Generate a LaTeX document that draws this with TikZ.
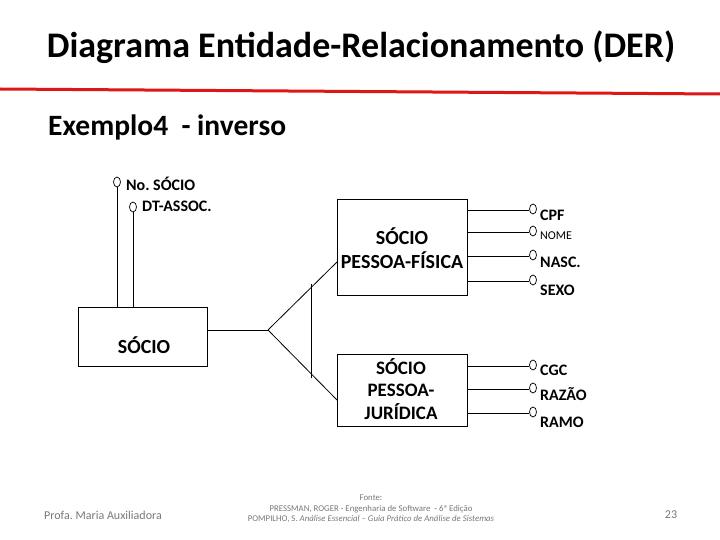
\documentclass[tikz,border=0pt]{standalone}
\usepackage{fontspec}
\setmainfont{Carlito}
\usetikzlibrary{shapes.geometric}
\definecolor{barred}{RGB}{222,22,22}
\definecolor{footgray}{RGB}{120,120,120}
\frenchspacing
\tikzset{
  ent/.style={draw, line width=0.9pt},
  attr/.style={draw, ellipse, minimum width=7pt, minimum height=10pt, inner sep=0pt, line width=0.7pt},
  lnk/.style={line width=0.8pt},
  lbl/.style={anchor=west, inner sep=0pt, font=\fontsize{16}{18}\selectfont\bfseries},
  boxtext/.style={align=center, inner sep=0pt, font=\fontsize{20}{24}\selectfont\bfseries},
  foot/.style={text=footgray, inner sep=0pt}
}
\begin{document}
\begin{tikzpicture}[x=1pt,y=-1pt]
\useasboundingbox (0,0) rectangle (720,540);
% title
\node[inner sep=0pt, font=\fontsize{36}{40}\selectfont\bfseries] (title) at (361,47) {Diagrama Entidade-Relacionamento (DER)};
\coordinate (rl) at (0,89);
\coordinate (rr) at (720,94);
\draw[barred, line width=3pt] (rl) -- (rr);
\node[anchor=west, inner sep=0pt, font=\fontsize{29.5}{33}\selectfont\bfseries] (ex) at (48,127) {Exemplo4\ \ - inverso};

% SOCIO entity
\draw[ent] (78,307) rectangle (207,366);
\coordinate (socioE) at (207,330);
\node[boxtext] (socio) at (144,345) {SÓCIO};
\node[attr] (a1) at (117,182) {};
\node[attr] (a2) at (133,207) {};
\node[lbl] (l1) at (126,184) {No. SÓCIO};
\node[lbl] (l2) at (142,206) {DT-ASSOC.};
\coordinate (a1b) at (117,307);
\coordinate (a2b) at (133,307);
\draw[lnk] (a1.south) -- (a1b);
\draw[lnk] (a2.south) -- (a2b);

% specialization
\coordinate (apex) at (268,330);
\coordinate (pfL) at (337,262);
\coordinate (pjL) at (337,400);
\coordinate (bt) at (311,284);
\coordinate (bb) at (311,378);
\draw[lnk] (socioE) -- (apex);
\draw[lnk] (apex) -- (pfL);
\draw[lnk] (apex) -- (pjL);
\draw[lnk] (bt) -- (bb);

% PESSOA-FISICA
\node[ent, minimum width=130pt, minimum height=96pt, inner sep=0pt] (pf) at (402,247) {};
\node[boxtext] (pft) at (402,248) {SÓCIO\\PESSOA-FÍSICA};
\foreach \y/\n in {211/f1,233/f2,257/f3,282/f4}{
  \node[attr] (\n) at (533,\y-2) {};
  \draw[lnk] (\n.200) -- (\n.200 -| pf.east);
}
\node[lbl] at (540,215) {CPF};
\node[lbl, font=\fontsize{12}{14}\selectfont] at (540,236) {NOME};
\node[lbl] at (540,262) {NASC.};
\node[lbl] at (540,290) {SEXO};

% PESSOA-JURIDICA
\node[ent, minimum width=130pt, minimum height=72pt, inner sep=0pt] (pj) at (402,390) {};
\node[boxtext, font=\fontsize{19}{22.5}\selectfont\bfseries] (pjt) at (401,389) {SÓCIO\\PESSOA-\\JURÍDICA};
\foreach \y/\n in {367/j1,390/j2,414/j3}{
  \node[attr] (\n) at (533,\y-2) {};
  \draw[lnk] (\n.200) -- (\n.200 -| pj.east);
}
\node[lbl] at (540,370) {CGC};
\node[lbl] at (540,394) {RAZÃO};
\node[lbl] at (540,422) {RAMO};

% footer
\node[foot, anchor=west, font=\fontsize{12}{14}\selectfont] (prof) at (44,515) {Profa. Maria Auxiliadora};
\node[foot, align=center, font=\fontsize{8.8}{10.5}\selectfont] (fonte) at (371,509) {Fonte:\\PRESSMAN, ROGER - Engenharia de Software \ - 6ª Edição\\POMPILHO, S. \textit{Análise Essencial – Guia Prático de Análise de Sistemas}};
\node[foot, font=\fontsize{12}{14}\selectfont] (pg) at (671,515) {23};
\end{tikzpicture}
\end{document}
